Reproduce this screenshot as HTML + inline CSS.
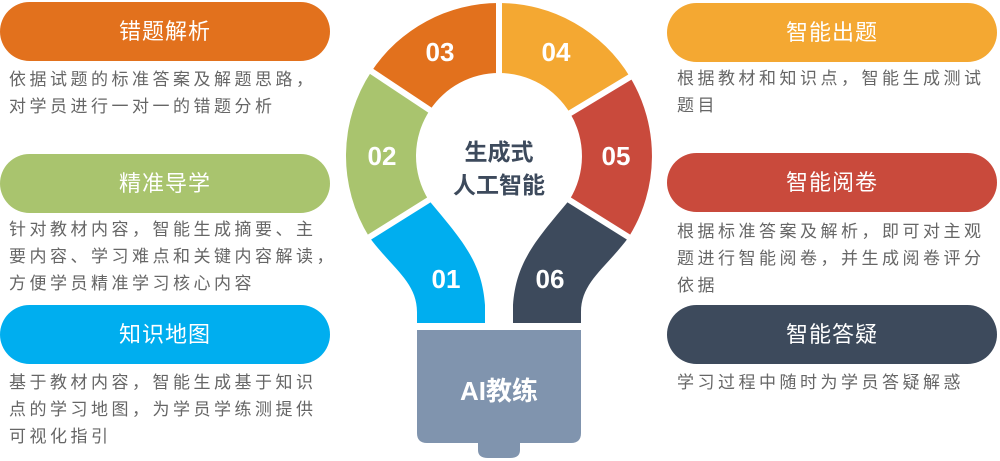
<!DOCTYPE html>
<html><head><meta charset="utf-8"><style>
body{margin:0;width:1000px;height:461px;background:#fff;position:relative;overflow:hidden;font-family:"Liberation Sans","Noto Sans CJK SC",sans-serif}
.pill{position:absolute;width:330px;height:59px;border-radius:30px;color:#fff;font-size:22px;text-align:center;line-height:59px;letter-spacing:1px}
.d{position:absolute;font-size:17px;color:#666;letter-spacing:3.5px;line-height:27px;white-space:nowrap}
</style></head><body>
<div class="pill" style="left:0;top:2px;background:#E2711D">错题解析</div>
<div class="d" style="left:9px;top:66px">依据试题的标准答案及解题思路，<br>对学员进行一对一的错题分析</div>
<div class="pill" style="left:0;top:154px;background:#A9C46E">精准导学</div>
<div class="d" style="left:9px;top:216px">针对教材内容，智能生成摘要、主<br>要内容、学习难点和关键内容解读，<br>方便学员精准学习核心内容</div>
<div class="pill" style="left:0;top:305px;background:#00AEEF">知识地图</div>
<div class="d" style="left:9px;top:369px">基于教材内容，智能生成基于知识<br>点的学习地图，为学员学练测提供<br>可视化指引</div>

<div class="pill" style="left:667px;top:3px;background:#F4A832">智能出题</div>
<div class="d" style="left:677px;top:65px">根据教材和知识点，智能生成测试<br>题目</div>
<div class="pill" style="left:667px;top:153px;background:#C94A3C">智能阅卷</div>
<div class="d" style="left:677px;top:218px">根据标准答案及解析，即可对主观<br>题进行智能阅卷，并生成阅卷评分<br>依据</div>
<div class="pill" style="left:667px;top:305px;background:#3D4A5C">智能答疑</div>
<div class="d" style="left:677px;top:369px">学习过程中随时为学员答疑解惑</div>

<svg width="1000" height="461" style="position:absolute;left:0;top:0" font-family="Liberation Sans, Noto Sans CJK SC, sans-serif">
<path d="M369.3,237.1 A153,153 0 0 1 371.4,71.5 L429.8,110.2 A83,83 0 0 0 428.6,200 Z" fill="#A9C46E"/>
<path d="M371.4,71.5 A153,153 0 0 1 499,3 L499,73 A83,83 0 0 0 429.8,110.2 Z" fill="#E2711D"/>
<path d="M499,3 A153,153 0 0 1 630.1,77.2 L570.1,113.3 A83,83 0 0 0 499,73 Z" fill="#F4A832"/>
<path d="M630.1,77.2 A153,153 0 0 1 628.7,237.1 L569.4,200 A83,83 0 0 0 570.1,113.3 Z" fill="#C94A3C"/>
<path d="M369.3,237.1 C392,268 417,282 417,312 L417,323 L485,323 L485,305 C482,262 462,240 428.6,200 Z" fill="#00AEEF"/>
<path d="M369.3,237.1 C392,268 417,282 417,312 L417,323 L485,323 L485,305 C482,262 462,240 428.6,200 Z" fill="#3D4A5C" transform="translate(998,0) scale(-1,1)"/>
<g stroke="#fff" stroke-width="6">
<line x1="499" y1="156" x2="360" y2="243"/>
<line x1="499" y1="156" x2="362" y2="65"/>
<line x1="499" y1="0" x2="499" y2="80"/>
<line x1="499" y1="156" x2="640" y2="71"/>
<line x1="499" y1="156" x2="638" y2="243"/>
</g>
<path d="M417,330 H581 V433 Q581,443 571,443 H520 V450 Q520,458 510,458 H488 Q478,458 478,450 V443 H427 Q417,443 417,433 Z" fill="#8094AE"/>
<g fill="#fff" font-size="26" font-weight="bold" text-anchor="middle">
<text x="440" y="61">03</text><text x="556" y="61">04</text>
<text x="382" y="165">02</text><text x="616" y="165">05</text>
<text x="446" y="288">01</text><text x="550" y="288">06</text>
<text x="499" y="400">AI教练</text>
</g>
<g fill="#3D4A5C" font-size="23" font-weight="bold" text-anchor="middle">
<text x="499" y="160">生成式</text><text x="499" y="193">人工智能</text>
</g>
</svg>
</body></html>
